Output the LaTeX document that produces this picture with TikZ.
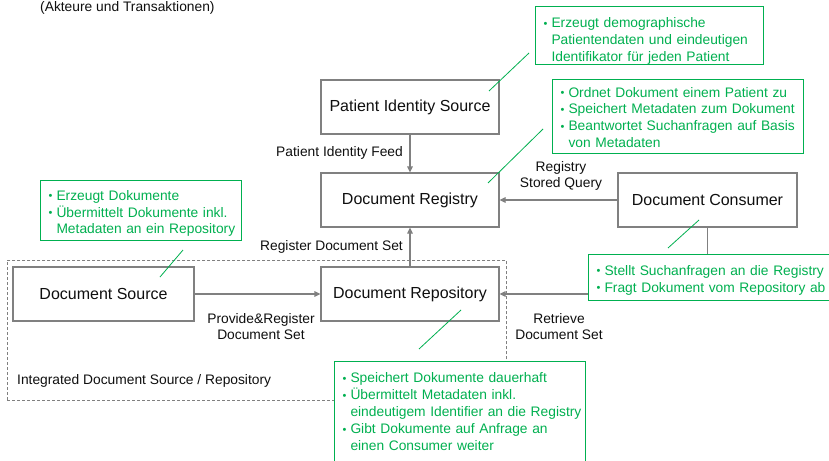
\documentclass[tikz,border=0pt]{standalone}
\usepackage{fontspec}
\setmainfont{Liberation Sans}
\usetikzlibrary{arrows.meta}
\definecolor{grn}{RGB}{0,176,80}
\definecolor{gry}{RGB}{128,128,128}
\definecolor{txt}{RGB}{15,15,15}
\newcommand\gbul[1]{\makebox[8pt][l]{\fontsize{11}{11}\selectfont\raisebox{0.3pt}{\textbullet}}\mbox{#1}}
\newcommand\gind[1]{\hspace*{8pt}\mbox{#1}}
\newcommand\gtop[1]{\rule{0pt}{\dimexpr 12pt+#1\relax}}
\newcommand\gbot[1]{\rule[-#1]{0pt}{0pt}}
\begin{document}
\begin{tikzpicture}[x=1pt,y=-1pt,
  actor/.style={draw=gry, line width=1.2pt, fill=white, minimum width=178pt, minimum height=54pt, inner sep=0pt, text=txt, font=\fontsize{16}{19}\selectfont},
  note/.style={draw=grn, line width=1pt, fill=white, anchor=north west, inner xsep=8pt, inner ysep=0pt, align=left, text=grn, font=\fontsize{13.8}{16.9}\selectfont},
  lbl/.style={font=\fontsize{13.8}{16.8}\selectfont, align=center, inner sep=0pt, text=txt},
  flow/.style={draw=gry, line width=1.2pt, -{Triangle[length=6pt,width=5.5pt]}},
  callout/.style={draw=grn, line width=0.8pt},
  grp/.style={draw=gry, line width=0.9pt, dash pattern=on 3pt off 2pt}
]
\useasboundingbox (0,0) rectangle (829,460);
\fill[white] (0,0) rectangle (829,460);

% subtitle
\node[lbl, anchor=west] (sub) at (40,8) {(Akteure und Transaktionen)};

% integrated group
\node[grp, anchor=north west, minimum width=499pt, minimum height=140pt, inner sep=0pt] (group) at (7,260) {};
\node[lbl, anchor=west] (grouplbl) at (17,381) {Integrated Document Source / Repository};

% actors
\node[actor] (pis) at (410,107) {Patient Identity Source};
\node[actor] (reg) at (410,200) {Document Registry};
\node[actor, minimum width=179pt] (cons) at (707.5,200) {Document Consumer};
\node[actor] (repo) at (410,294) {Document Repository};
\node[actor, minimum width=181pt] (src) at (103.5,294) {Document Source};

% transactions
\draw[flow] (pis) -- (reg);
\node[lbl, anchor=east] (feedlbl) at (403,153) {Patient Identity Feed};
\draw[flow] (cons) -- (reg);
\node[lbl] (querylbl) at (561,176) {Registry\\Stored Query};
\draw[flow] (repo) -- (reg);
\node[lbl, anchor=east] (reglbl) at (403,247) {Register Document Set};
\draw[flow] (src) -- (repo);
\node[lbl] (provlbl) at (261,326.5) {Provide\&Register\\Document Set};
\draw[flow] (cons.south) |- (repo.east);
\node[lbl] (retrlbl) at (559,326.5) {Retrieve\\Document Set};

% notes
\node[note, minimum width=228pt, minimum height=57pt, text width=212pt] (n1) at (535,6)
  {\gtop{9pt}\gbul{Erzeugt demographische}\\\gind{Patientendaten und eindeutigen}\\\gind{Identifikator für jeden Patient}};
\node[note, minimum width=251pt, minimum height=74pt, text width=235pt] (n2) at (552,79)
  {\gtop{0pt}\gbul{Ordnet Dokument einem Patient zu}\\\gbul{Speichert Metadaten zum Dokument}\\\gbul{Beantwortet Suchanfragen auf Basis}\\\gind{von Metadaten}};
\node[note, minimum width=201pt, minimum height=60pt, text width=185pt] (n3) at (40,180)
  {\gtop{4pt}\gbul{Erzeugt Dokumente}\\\gbul{Übermittelt Dokumente inkl.}\\\gind{Metadaten an ein Repository}};
\node[note, minimum width=251pt, minimum height=105pt, text width=235pt] (n4) at (334,361)
  {\gtop{0pt}\gbul{Speichert Dokumente dauerhaft}\\\gbul{Übermittelt Metadaten inkl.}\\\gind{eindeutigem Identifier an die Registry}\\\gbul{Gibt Dokumente auf Anfrage an}\\\gind{einen Consumer weiter}\gbot{7pt}};
\node[note, minimum width=252pt, minimum height=46pt, text width=236pt] (n5) at (588,254)
  {\gtop{3pt}\gbul{Stellt Suchanfragen an die Registry}\\\gbul{Fragt Dokument vom Repository ab}};

% callout lines
\coordinate (c1a) at (529,53); \coordinate (c1b) at (489,91);
\coordinate (c2a) at (543,129); \coordinate (c2b) at (488,183);
\coordinate (c3a) at (183,250); \coordinate (c3b) at (160,277);
\coordinate (c4a) at (419,349); \coordinate (c4b) at (461,310);
\coordinate (c5a) at (668,248); \coordinate (c5b) at (699,220);
\draw[callout] (c1a) -- (c1b);
\draw[callout] (c2a) -- (c2b);
\draw[callout] (c3a) -- (c3b);
\draw[callout] (c4a) -- (c4b);
\draw[callout] (c5a) -- (c5b);
\end{tikzpicture}
\end{document}
